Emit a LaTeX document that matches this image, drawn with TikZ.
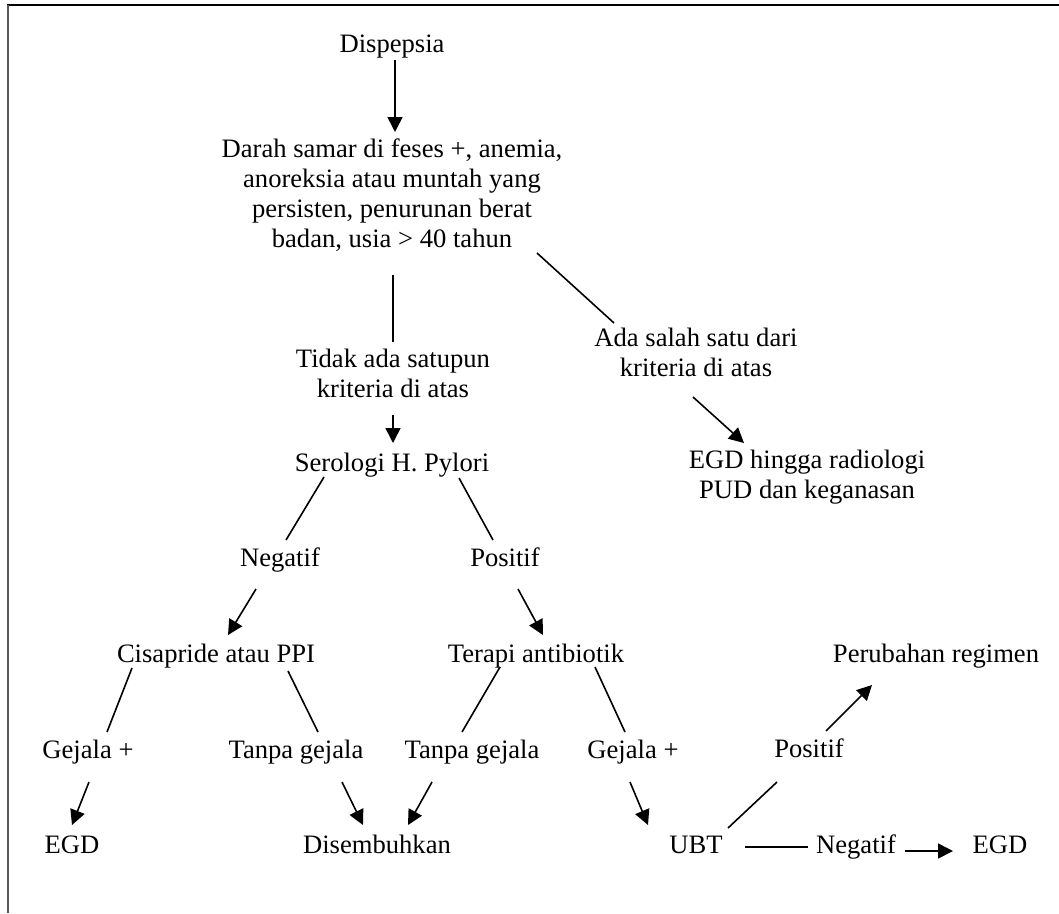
\documentclass[tikz,border=0pt]{standalone}
\usepackage{fontspec}
\setmainfont{Liberation Serif}
\usetikzlibrary{arrows.meta}
\begin{document}
\begin{tikzpicture}[x=1pt,y=-1pt,
  lbl/.style={anchor=base,inner sep=0pt,align=center,
    font=\fontsize{26.6}{30}\selectfont},
  link/.style={line width=1.6pt},
  arr/.style={line width=1.6pt,-{Triangle[length=15pt,width=15pt]}}]
\useasboundingbox (0,0) rectangle (1059,913);
% frame: top and left edges
\draw[line width=1.6pt] (7,5) -- (1059,5);
\draw[line width=1.6pt,gray!70!black] (8,5) -- (8,913);

% texts (multi-line nodes sit on the baseline of their last line)
\node[lbl] (dis)  at (392,52)  {Dispepsia};
\node[lbl] (blk)  at (392,247) {Darah samar di feses +, anemia,\\anoreksia atau muntah yang\\persisten, penurunan berat\\badan, usia > 40 tahun};
\node[lbl] (tid)  at (393,397) {Tidak ada satupun\\kriteria di atas};
\node[lbl] (ada)  at (696,376) {Ada salah satu dari\\kriteria di atas};
\node[lbl] (egdr) at (807,498) {EGD hingga radiologi\\PUD dan keganasan};
\node[lbl] (ser)  at (392,471) {Serologi H. Pylori};
\node[lbl] (neg)  at (280,566) {Negatif};
\node[lbl] (pos)  at (505,566) {Positif};
\node[lbl] (cis)  at (216,662) {Cisapride atau PPI};
\node[lbl] (ter)  at (536,662) {Terapi antibiotik};
\node[lbl] (per)  at (936,662) {Perubahan regimen};
\node[lbl] (gejA) at (88,758)  {Gejala +};
\node[lbl] (tanA) at (296,758) {Tanpa gejala};
\node[lbl] (tanB) at (472,758) {Tanpa gejala};
\node[lbl] (gejB) at (633,758) {Gejala +};
\node[lbl] (posB) at (809,757) {Positif};
\node[lbl] (egdA) at (72,853)  {EGD};
\node[lbl] (sem)  at (377,853) {Disembuhkan};
\node[lbl] (ubt)  at (696,853) {UBT};
\node[lbl] (negB) at (856,853) {Negatif};
\node[lbl] (egdB) at (1000,853) {EGD};

% connectors
\draw[arr]  ([shift={(3,8)}]dis.base)     -- ([shift={(3,-115)}]blk.base);
\draw[link] ([shift={(1,28)}]blk.base)    -- ([shift={(0,-55)}]tid.base);
\draw[link] ([shift={(145,6)}]blk.base)   -- ([shift={(-82,-53)}]ada.base);
\draw[arr]  ([shift={(-3,21)}]ada.base)   -- ([shift={(-63,-55)}]egdr.base);
\draw[arr]  ([shift={(0,18)}]tid.base)    -- ([shift={(1,-28)}]ser.base);
\draw[link] ([shift={(-68,6)}]ser.base)   -- ([shift={(6,-26)}]neg.base);
\draw[link] ([shift={(67,7)}]ser.base)    -- ([shift={(-12,-26)}]pos.base);
\draw[arr]  ([shift={(-24,23)}]neg.base)  -- ([shift={(12,-27)}]cis.base);
\draw[arr]  ([shift={(13,23)}]pos.base)   -- ([shift={(7,-27)}]ter.base);
\draw[link] ([shift={(-84,6)}]cis.base)   -- ([shift={(19,-26)}]gejA.base);
\draw[link] ([shift={(72,9)}]cis.base)    -- ([shift={(22,-26)}]tanA.base);
\draw[link] ([shift={(-36,5)}]ter.base)   -- ([shift={(-10,-26)}]tanB.base);
\draw[link] ([shift={(59,5)}]ter.base)    -- ([shift={(-8,-26)}]gejB.base);
\draw[arr]  ([shift={(1,24)}]gejA.base)   -- ([shift={(0,-28)}]egdA.base);
\draw[arr]  ([shift={(46,24)}]tanA.base)  -- ([shift={(-14,-28)}]sem.base);
\draw[arr]  ([shift={(-40,24)}]tanB.base) -- ([shift={(31,-28)}]sem.base);
\draw[arr]  ([shift={(-3,24)}]gejB.base)  -- ([shift={(-48,-28)}]ubt.base);
\draw[link] ([shift={(32,-25)}]ubt.base)  -- ([shift={(-32,25)}]posB.base);
\draw[arr]  ([shift={(17,-26)}]posB.base) -- ([shift={(-64,23)}]per.base);
\draw[link] ([shift={(49,-6)}]ubt.base)   -- ([shift={(-48,-6)}]negB.base);
\draw[arr]  ([shift={(49,-2)}]negB.base)  -- ([shift={(-47,-2)}]egdB.base);
\end{tikzpicture}
\end{document}
